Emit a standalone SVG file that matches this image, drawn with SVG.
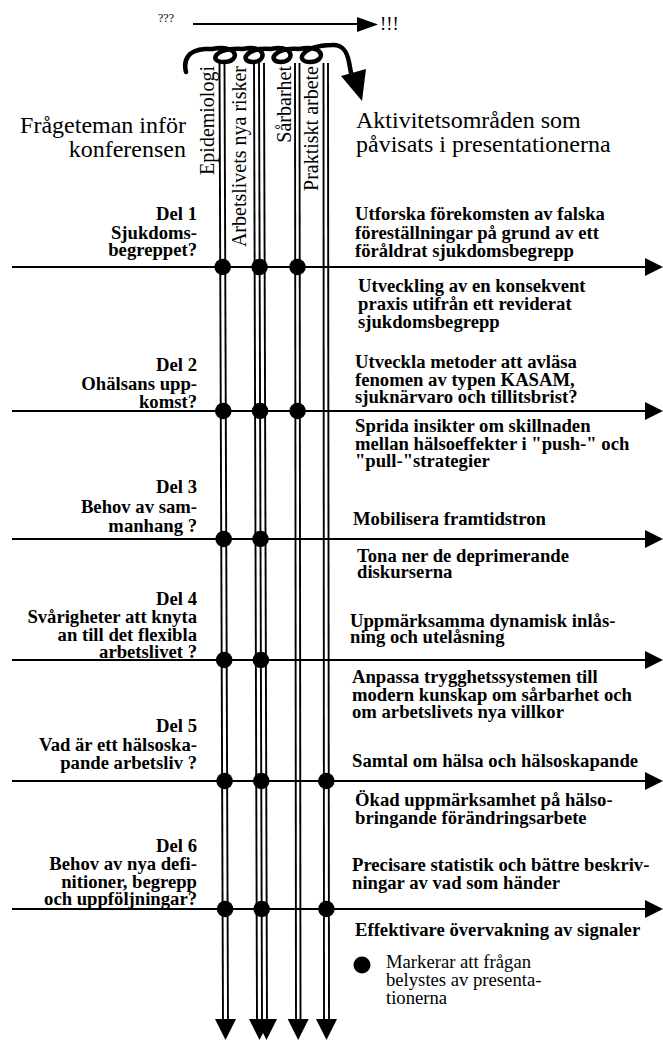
<svg xmlns="http://www.w3.org/2000/svg" width="663" height="1040" viewBox="0 0 663 1040">
<style>
text{font-family:"Liberation Serif","Times New Roman",serif;fill:#000}
.b{font-weight:bold;font-size:18.67px}
.r{text-anchor:end}
.t{font-size:24px}
.v{font-size:20px;text-anchor:end}
.lg{font-size:18.67px}
.h{stroke:#000;stroke-width:2.2;fill:none}
.vl{stroke:#000;stroke-width:1.9;fill:none}
.coil{stroke:#000;stroke-width:4.5;fill:none;stroke-linecap:round;stroke-linejoin:round}
</style>
<rect width="663" height="1040" fill="#fff"/>

<g id="header">
<text x="158" y="22" style="font-size:12px">???</text>
<line x1="193" y1="24" x2="358" y2="24" stroke="#000" stroke-width="1.8"/>
<polygon points="357,17 378,24.5 357,32"/>
<text x="380" y="30" style="font-size:18.67px">!!!</text>
<path class="coil" d="M186,72 C183,60 188,50 205,49 L212,49 C240,44 240,62 224,62 C208,62 214,47 243,49 C267,44 267,62 253,62 C239,62 245,47 271,49 C295,44 295,62 281,62 C267,62 273,47 299,49 C326,44 326,62 310,62 C295,62 300,46 332,45 C343,44 347,52 349,62 L351,73"/>
<polygon points="341,76 366,69 362,101"/>
</g>

<g id="title-left">
<text class="t r" x="186" y="133">Frågeteman inför</text>
<text class="t r" x="186" y="157">konferensen</text>
</g>
<g id="title-right">
<text class="t" x="356" y="128">Aktivitetsområden som</text>
<text class="t" x="356" y="152">påvisats i presentationerna</text>
</g>

<g id="theme-epidemiologi"><text class="v" transform="translate(214,66) rotate(-90)">Epidemiologi</text></g>
<g id="theme-arbetslivets"><text class="v" transform="translate(246,66) rotate(-90)">Arbetslivets nya risker</text></g>
<g id="theme-sarbarhet"><text class="v" transform="translate(291,66) rotate(-90)">Sårbarhet</text></g>
<g id="theme-praktiskt"><text class="v" transform="translate(318,66) rotate(-90)">Praktiskt arbete</text></g>

<g id="connectors">
<g id="horizontal">
<line class="h" x1="12" y1="267" x2="647" y2="267"/>
<line class="h" x1="12" y1="411" x2="647" y2="411"/>
<line class="h" x1="12" y1="539" x2="647" y2="539"/>
<line class="h" x1="12" y1="660" x2="647" y2="660"/>
<line class="h" x1="12" y1="781" x2="647" y2="781"/>
<line class="h" x1="12" y1="909" x2="647" y2="909"/>
<polygon points="645,258 663,267 645,276"/>
<polygon points="645,402 663,411 645,420"/>
<polygon points="645,530 663,539 645,548"/>
<polygon points="645,651 663,660 645,669"/>
<polygon points="645,772 663,781 645,790"/>
<polygon points="645,900 663,909 645,918"/>
</g>
<g id="vertical">
<line class="vl" x1="219.5" y1="63" x2="223" y2="1022"/>
<line class="vl" x1="224.5" y1="63" x2="228" y2="1022"/>
<line class="vl" x1="254" y1="63" x2="257" y2="1022"/>
<line class="vl" x1="259" y1="63" x2="262" y2="1022"/>
<line class="vl" x1="264" y1="63" x2="267" y2="1022"/>
<line class="vl" x1="295" y1="63" x2="296" y2="1022"/>
<line class="vl" x1="299.5" y1="63" x2="300.5" y2="1022"/>
<line class="vl" x1="323.5" y1="63" x2="324" y2="1022"/>
<line class="vl" x1="328" y1="63" x2="329" y2="1022"/>
<polygon points="215,1019 236,1019 225.5,1040"/>
<polygon points="249,1019 270,1019 259.5,1040"/>
<polygon points="256,1019 277,1019 266.5,1040"/>
<polygon points="287.7,1019 308.7,1019 298.2,1040"/>
<polygon points="316,1019 337,1019 326.5,1040"/>
</g>
<g id="dots">
<circle cx="222.7" cy="267" r="8.3"/><circle cx="259.6" cy="267" r="8.3"/><circle cx="297.5" cy="267" r="8.3"/>
<circle cx="223.3" cy="411" r="8.3"/><circle cx="260.1" cy="411" r="8.3"/><circle cx="297.6" cy="411" r="8.3"/>
<circle cx="223.7" cy="539" r="8.3"/><circle cx="260.5" cy="539" r="8.3"/>
<circle cx="224.2" cy="660" r="8.3"/><circle cx="260.9" cy="660" r="8.3"/>
<circle cx="224.6" cy="781" r="8.3"/><circle cx="261.3" cy="781" r="8.3"/><circle cx="326.3" cy="781" r="8.3"/>
<circle cx="225.1" cy="909" r="8.3"/><circle cx="261.7" cy="909" r="8.3"/><circle cx="326.4" cy="909" r="8.3"/>
</g>
</g>

<g id="del1"><text class="b r" x="197" y="220">Del 1</text><text class="b r" x="197" y="239">Sjukdoms-</text><text class="b r" x="197" y="256">begreppet?</text></g>
<g id="del2"><text class="b r" x="197" y="371">Del 2</text><text class="b r" x="197" y="390">Ohälsans upp-</text><text class="b r" x="197" y="408">komst?</text></g>
<g id="del3"><text class="b r" x="197" y="493">Del 3</text><text class="b r" x="197" y="513">Behov av sam-</text><text class="b r" x="197" y="532">manhang ?</text></g>
<g id="del4"><text class="b r" x="197" y="605">Del 4</text><text class="b r" x="197" y="623">Svårigheter att knyta</text><text class="b r" x="197" y="641">an till det flexibla</text><text class="b r" x="197" y="658">arbetslivet ?</text></g>
<g id="del5"><text class="b r" x="197" y="732">Del 5</text><text class="b r" x="197" y="751">Vad är ett hälsoska-</text><text class="b r" x="197" y="769">pande arbetsliv ?</text></g>
<g id="del6"><text class="b r" x="197" y="852">Del 6</text><text class="b r" x="197" y="870">Behov av nya defi-</text><text class="b r" x="197" y="888">nitioner, begrepp</text><text class="b r" x="197" y="905">och uppföljningar?</text></g>

<g id="akt1a"><text class="b" x="355" y="220">Utforska förekomsten av falska</text><text class="b" x="355" y="239">föreställningar på grund av ett</text><text class="b" x="355" y="257">föråldrat sjukdomsbegrepp</text></g>
<g id="akt1b"><text class="b" x="358" y="292">Utveckling av en konsekvent</text><text class="b" x="358" y="310">praxis utifrån ett reviderat</text><text class="b" x="358" y="328">sjukdomsbegrepp</text></g>
<g id="akt2a"><text class="b" x="355" y="368">Utveckla metoder att avläsa</text><text class="b" x="355" y="386">fenomen av typen KASAM,</text><text class="b" x="355" y="403">sjuknärvaro och tillitsbrist?</text></g>
<g id="akt2b"><text class="b" x="355" y="432">Sprida insikter om skillnaden</text><text class="b" x="355" y="450">mellan hälsoeffekter i &quot;push-&quot; och</text><text class="b" x="355" y="467">&quot;pull-&quot;strategier</text></g>
<g id="akt3a"><text class="b" x="353" y="525">Mobilisera framtidstron</text></g>
<g id="akt3b"><text class="b" x="357" y="562">Tona ner de deprimerande</text><text class="b" x="357" y="578">diskurserna</text></g>
<g id="akt4a"><text class="b" x="350" y="627">Uppmärksamma dynamisk inlås-</text><text class="b" x="350" y="643">ning och utelåsning</text></g>
<g id="akt4b"><text class="b" x="352" y="683">Anpassa trygghetssystemen till</text><text class="b" x="352" y="701">modern kunskap om sårbarhet och</text><text class="b" x="352" y="718">om arbetslivets nya villkor</text></g>
<g id="akt5a"><text class="b" x="352" y="767">Samtal om hälsa och hälsoskapande</text></g>
<g id="akt5b"><text class="b" x="355" y="806">Ökad uppmärksamhet på hälso-</text><text class="b" x="355" y="824">bringande förändringsarbete</text></g>
<g id="akt6a"><text class="b" x="352" y="871">Precisare statistik och bättre beskriv-</text><text class="b" x="352" y="889">ningar av vad som händer</text></g>
<g id="akt6b"><text class="b" x="355" y="936">Effektivare övervakning av signaler</text></g>

<g id="legend">
<circle cx="362" cy="965" r="8.5"/>
<text class="lg" x="386" y="968">Markerar att frågan</text>
<text class="lg" x="386" y="986">belystes av presenta-</text>
<text class="lg" x="386" y="1004">tionerna</text>
</g>
</svg>
